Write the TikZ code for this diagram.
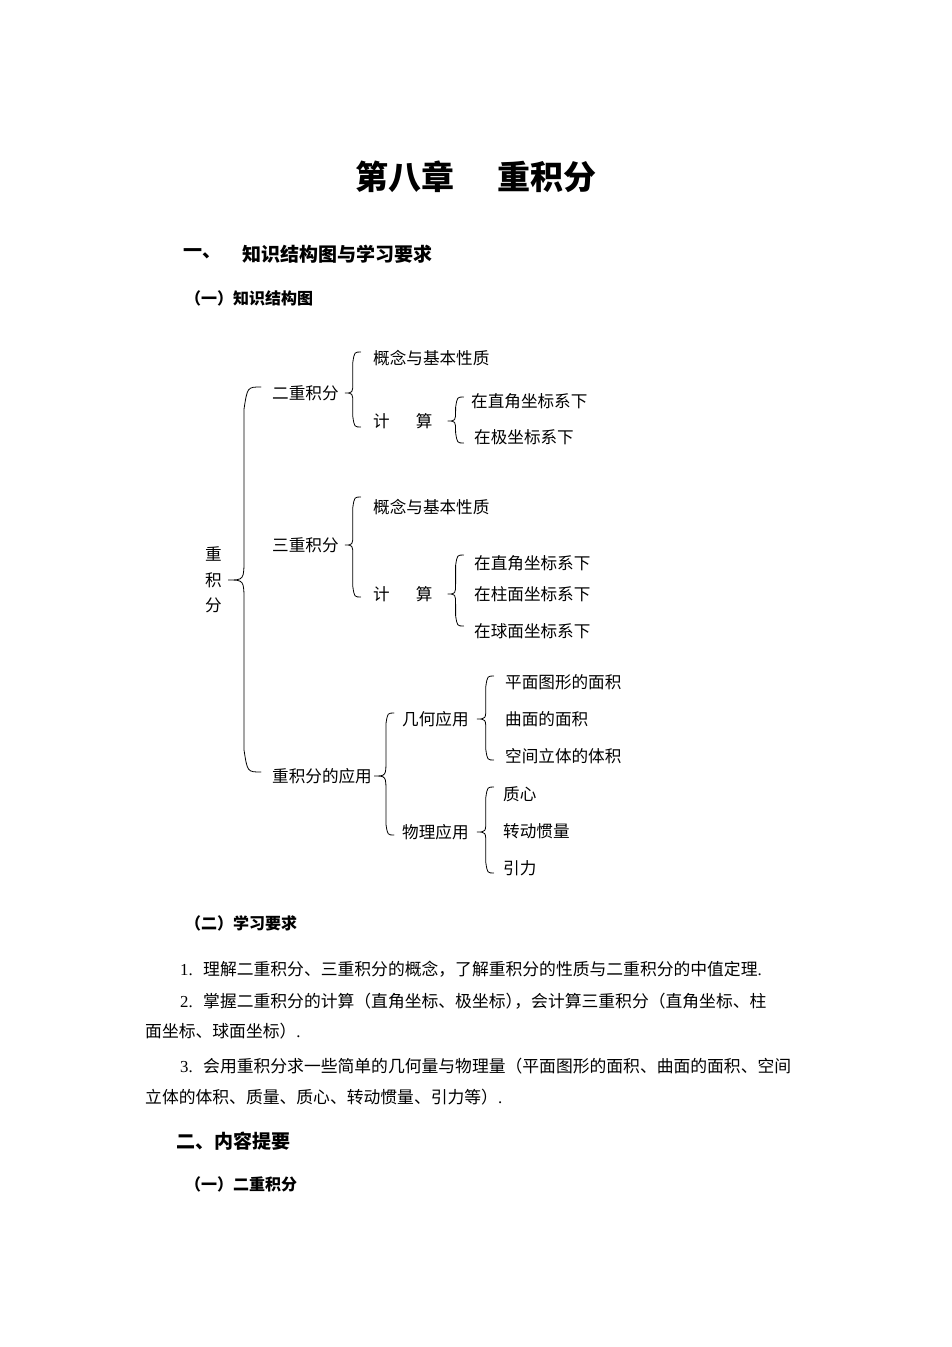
\documentclass[tikz,border=0pt]{standalone}
\usepackage{fontspec}
\setmainfont{Liberation Serif}
\newfontfamily\cjk{Noto Sans CJK SC}
\usetikzlibrary{calc}

% curly brace: #1 parent, #2 top end, #3 bottom end, #4 gap, #5 tip, #6 curl
\newcommand\kbrace[6]{%
  \draw[brc] let \p1=(#1.east), \p2=(#2), \p3=(#3) in
    (\x1+#4+#5+#6, \y2) .. controls (\x1+#4+#5+0.2*#6, \y2) .. (\x1+#4+#5, \y2-1.3*#6)
    -- (\x1+#4+#5, \y1+1.4*#5) .. controls (\x1+#4+#5, \y1) .. (\x1+#4, \y1)
    .. controls (\x1+#4+#5, \y1) .. (\x1+#4+#5, \y1-1.4*#5)
    -- (\x1+#4+#5, \y3+1.3*#6) .. controls (\x1+#4+#5+0.2*#6, \y3) .. (\x1+#4+#5+#6, \y3);}

\begin{document}
\begin{tikzpicture}[x=1pt, y=-1pt,
    lbl/.style={font=\cjk\fontsize{16.6}{20}\selectfont, inner sep=0pt, anchor=west},
    para/.style={font=\cjk\fontsize{16.8}{20}\selectfont, inner sep=0pt, anchor=west},
    hd/.style={font=\cjk\bfseries\fontsize{16}{20}\selectfont, inner sep=0pt, anchor=west},
    bighd/.style={font=\cjk\bfseries\fontsize{19}{22}\selectfont, inner sep=0pt, anchor=west},
    ttl/.style={font=\cjk\bfseries\fontsize{33}{36}\selectfont, inner sep=0pt},
    brc/.style={line width=0.8pt, line cap=round},
]
\useasboundingbox (0,0) rectangle (952,1347);

%% title and headings
\node[ttl] (t1) at (405,177) {第八章};
\node[ttl] (t2) at (547,177) {重积分};
\node[bighd] (h1a) at (183,254) {一、};
\node[bighd] (h1b) at (242,254) {知识结构图与学习要求};
\node[hd]    (h2)  at (185,298) {（一）知识结构图};

%% knowledge tree
\node[lbl, align=center, font=\cjk\fontsize{16.6}{25.5}\selectfont] (root) at (205,580) {重\\积\\分};

\node[lbl] (dbl)   at (272,393) {二重积分};
\node[lbl] (dbl1)  at (373,358) {概念与基本性质};
\node[lbl] (dbl2)  at (373,421) {计\hspace{26pt}算};
\node[lbl] (dbl21) at (471,401) {在直角坐标系下};
\node[lbl] (dbl22) at (474,437) {在极坐标系下};

\node[lbl] (tri)   at (272,545) {三重积分};
\node[lbl] (tri1)  at (373,507) {概念与基本性质};
\node[lbl] (tri2)  at (373,594) {计\hspace{26pt}算};
\node[lbl] (tri21) at (474,563) {在直角坐标系下};
\node[lbl] (tri22) at (474,594) {在柱面坐标系下};
\node[lbl] (tri23) at (474,631) {在球面坐标系下};

\node[lbl] (app)  at (272,776) {重积分的应用};
\node[lbl] (geo)  at (402,719) {几何应用};
\node[lbl] (geo1) at (505,682) {平面图形的面积};
\node[lbl] (geo2) at (505,719) {曲面的面积};
\node[lbl] (geo3) at (505,756) {空间立体的体积};
\node[lbl] (phy)  at (402,832) {物理应用};
\node[lbl] (phy1) at (503,794) {质心};
\node[lbl] (phy2) at (503,831) {转动惯量};
\node[lbl] (phy3) at (503,868) {引力};

% braces
\kbrace{root}{[yshift=6pt]dbl.west}{[yshift=4pt]app.west}{6pt}{16pt}{17pt}
\kbrace{dbl}{[yshift=6pt]dbl1.west}{[yshift=-6pt]dbl2.west}{6pt}{8pt}{8pt}
\kbrace{dbl2}{[yshift=4pt]dbl21.west}{[yshift=-6pt]dbl22.west}{15pt}{8pt}{8pt}
\kbrace{tri}{[yshift=10pt]tri1.west}{[yshift=-3pt]tri2.west}{6pt}{8pt}{8pt}
\kbrace{tri2}{[yshift=8pt]tri21.west}{[yshift=5pt]tri23.west}{15pt}{8pt}{8pt}
\kbrace{app}{[yshift=6pt]geo.west}{[yshift=-3pt]phy.west}{2pt}{12pt}{8pt}
\kbrace{geo}{[yshift=6pt]geo1.west}{[yshift=-4pt]geo3.west}{8pt}{9pt}{8pt}
\kbrace{phy}{[yshift=7pt]phy1.west}{[yshift=-5pt]phy3.west}{8pt}{9pt}{8pt}

%% study requirements
\node[hd] (h3) at (185,923) {（二）学习要求};
\node[para] (r1) at (180,969) {{\rmfamily 1.}\hspace{10.4pt}理解二重积分、三重积分的概念，了解重积分的性质与二重积分的中值定理{\rmfamily .}};
\node[para] (r2) at (180,1001) {{\rmfamily 2.}\hspace{10.4pt}掌握二重积分的计算（直角坐标、极坐标）\hspace{-8pt}，会计算三重积分（直角坐标、柱};
\node[para] (r2b) at (145,1031) {面坐标、球面坐标）{\rmfamily .}};
\node[para] (r3) at (180,1066) {{\rmfamily 3.}\hspace{10.4pt}会用重积分求一些简单的几何量与物理量（平面图形的面积、曲面的面积、空间};
\node[para] (r3b) at (145,1097) {立体的体积、质量、质心、转动惯量、引力等）{\rmfamily .}};

%% contents
\node[bighd] (h4) at (176,1141) {二、内容提要};
\node[hd]    (h5) at (185,1184) {（一）二重积分};
\end{tikzpicture}
\end{document}
